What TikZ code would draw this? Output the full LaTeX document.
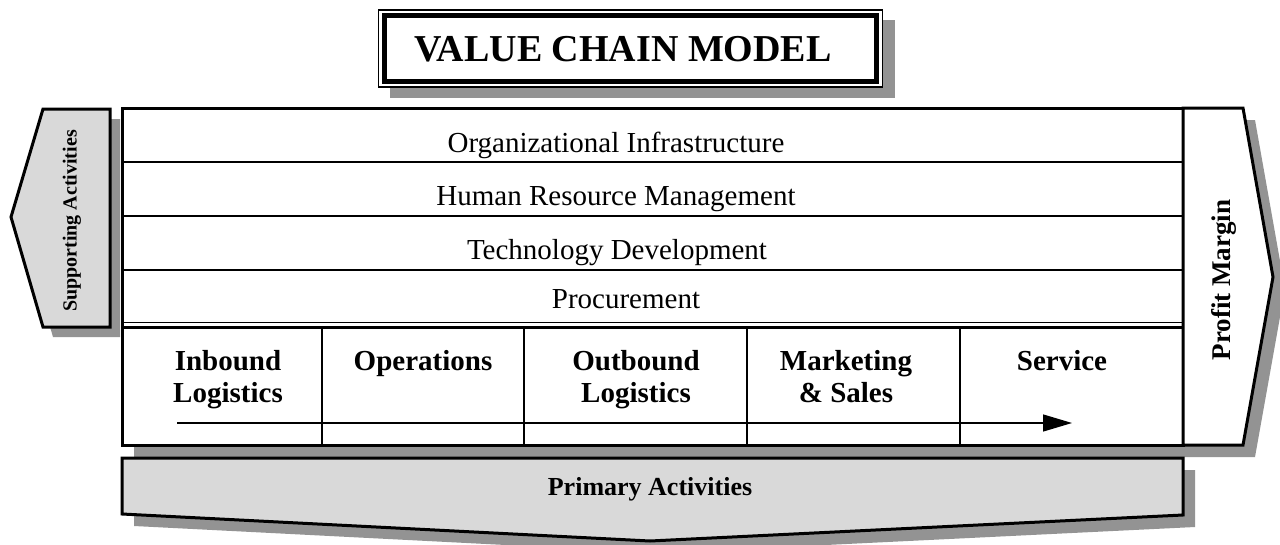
\documentclass[tikz,border=0pt]{standalone}
\usepackage{fontspec}
\setmainfont{Liberation Serif}
\usetikzlibrary{arrows.meta}
\definecolor{shadowgray}{RGB}{147,147,147}
\definecolor{panelgray}{RGB}{217,217,217}

\begin{document}
\begin{tikzpicture}[x=1pt,y=-1pt,
  dropshadow/.style={fill=shadowgray,draw=none},
  frame/.style={draw=black,line width=3pt,fill=white},
  panel/.style={draw=black,line width=3pt,fill=panelgray},
  rowline/.style={line width=1.5pt},
  colline/.style={line width=2pt},
  rowtext/.style={anchor=base,inner sep=0pt,font=\fontsize{29}{31}\selectfont},
  celltext/.style={anchor=north,inner sep=0pt,align=center,font=\fontsize{29}{32}\selectfont\bfseries},
  flow/.style={line width=1.3pt,-{Triangle[length=29pt,width=17pt]}}]
\useasboundingbox (0,0) rectangle (1280,544);

% shadows first
\fill[dropshadow] (390,20) rectangle (895,98);
\fill[dropshadow] (53,119) -- (120,119) -- (120,337) -- (53,337) -- (21,227) -- cycle;
\fill[dropshadow] (134,120) -- (1255,120) -- (1285,289) -- (1255,457) -- (134,457) -- cycle;
\fill[dropshadow] (134,470) -- (1195,470) -- (1195,527) -- (662,553) -- (134,526) -- cycle;

% title
\draw[line width=1.5pt,fill=white] (378.5,10) rectangle (882.5,87);
\draw[line width=5.5pt] (384.5,15.5) rectangle (876.5,81.5);
\node (title) at (623,49) {\fontsize{38}{40}\selectfont\bfseries VALUE CHAIN MODEL};

% supporting activities arrow
\draw[panel] (43,109) -- (110,109) -- (110,327) -- (43,327) -- (11,217) -- cycle;
\node[rotate=90] (support) at (72,221) {\fontsize{20}{22}\selectfont\bfseries Supporting Activities};

% main chain and margin
\draw[frame] (122,108) rectangle (1183,445);
\draw[frame] (1183,108) -- (1243,108) -- (1273,277) -- (1243,445) -- (1183,445) -- cycle;
\node[rotate=90] (margin) at (1224,280) {\fontsize{27}{30}\selectfont\bfseries Profit Margin};

\foreach \y in {162,216,270,322.5}
  \draw[rowline] (122,\y) -- (1183,\y);
\draw[line width=3pt] (122,327.5) -- (1183,327.5);
\foreach \x in {322,524,747,960}
  \draw[colline] (\x,327) -- (\x,445);

\node[rowtext] (infra) at (616,152) {Organizational Infrastructure};
\node[rowtext] (hrm) at (616,205) {Human Resource Management};
\node[rowtext] (tech) at (617,259) {Technology Development};
\node[rowtext] (proc) at (626,308) {Procurement};

\node[celltext] (inbound) at (228,350) {Inbound\\Logistics};
\node[celltext] (ops) at (423,350) {Operations};
\node[celltext] (outbound) at (636,350) {Outbound\\Logistics};
\node[celltext] (market) at (846,350) {Marketing\\\& Sales};
\node[celltext] (service) at (1062,350) {Service};

\coordinate (flowstart) at (177,423);
\coordinate (flowend) at (1072,423);
\draw[flow] (flowstart) -- (flowend);

% primary activities arrow
\draw[panel] (122,458) -- (1183,458) -- (1183,515) -- (650,541) -- (122,514) -- cycle;
\node[anchor=base] (primary) at (650,495) {\fontsize{26}{28}\selectfont\bfseries Primary Activities};
\end{tikzpicture}
\end{document}
